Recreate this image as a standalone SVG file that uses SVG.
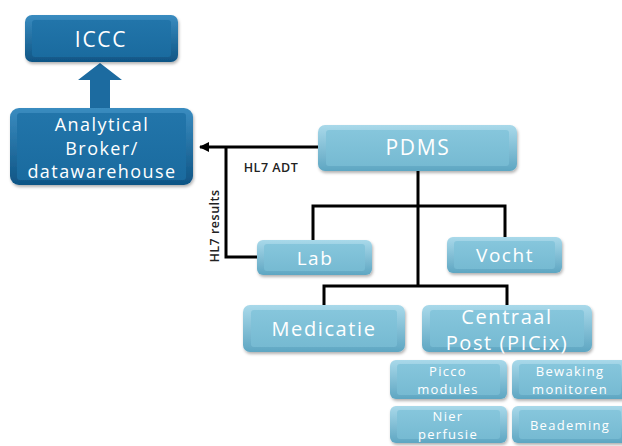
<svg xmlns="http://www.w3.org/2000/svg" width="622" height="446" viewBox="0 0 622 446">
<defs>
<linearGradient id="gDark" x1="0" y1="0" x2="0" y2="1"><stop offset="0" stop-color="#3a8cc0"/><stop offset="1" stop-color="#0f5585"/></linearGradient>
<linearGradient id="gDarkIn" x1="0" y1="0" x2="0" y2="1"><stop offset="0" stop-color="#2275aa"/><stop offset="1" stop-color="#1a6b9f"/></linearGradient>
<linearGradient id="gLight" x1="0" y1="0" x2="0" y2="1"><stop offset="0" stop-color="#a9d9ea"/><stop offset="1" stop-color="#5ea6c2"/></linearGradient>
<linearGradient id="gLightIn" x1="0" y1="0" x2="0" y2="1"><stop offset="0" stop-color="#86c6dc"/><stop offset="1" stop-color="#76bad2"/></linearGradient>
<filter id="sh" x="-10%" y="-10%" width="120%" height="130%"><feDropShadow dx="1" dy="2" stdDeviation="1.5" flood-color="#000" flood-opacity="0.3"/></filter>
<marker id="ah" markerWidth="10" markerHeight="10" refX="9" refY="5" orient="auto" markerUnits="userSpaceOnUse"><path d="M0,0 L10,5 L0,10 z" fill="#000"/></marker>
<style>
.d{fill:url(#gDark);filter:url(#sh)}
.di{fill:url(#gDarkIn)}
.l{fill:url(#gLight);filter:url(#sh)}
.li{fill:url(#gLightIn)}
.t{font-family:"Open Sans","Noto Sans",sans-serif;fill:#fff;text-anchor:middle;letter-spacing:0.08em}
.s{letter-spacing:0.1em}
.c{fill:none;stroke:#000;stroke-width:3}
.lb{font-family:"Open Sans","Noto Sans",sans-serif;fill:#222;font-size:12.5px;font-weight:600;text-anchor:middle;letter-spacing:0.04em}
</style>
</defs>
<g id="connectors">
<path class="c" d="M318,147 H200" marker-end="url(#ah)"/>
<path class="c" d="M226,147 V257 H258"/>
<path class="c" d="M418,171 V286"/>
<path class="c" d="M313,240 V206 H505 V237"/>
<path class="c" d="M324,306 V286 H507 V306"/>
<path d="M90,108 V80 H78 L100,63 L122,80 H110 V108 z" fill="#1c6ba0"/>
<text class="lb" x="271" y="172">HL7 ADT</text>
<text class="lb" transform="translate(219,226) rotate(-90)">HL7 results</text>
</g>
<g id="iccc"><rect class="d" x="25" y="15" width="153" height="47" rx="7"/><rect class="di" x="32" y="20" width="139" height="37" rx="3"/><text class="t" x="101" y="47" font-size="21">ICCC</text></g>
<g id="analytical"><rect class="d" x="10" y="108" width="183" height="77" rx="9"/><rect class="di" x="17" y="113" width="169" height="67" rx="3"/><text class="t" font-size="18"><tspan x="102" y="131">Analytical</tspan><tspan x="102" y="155">Broker/</tspan><tspan x="102" y="178">datawarehouse</tspan></text></g>
<g id="pdms"><rect class="l" x="318" y="125" width="199" height="46" rx="7"/><rect class="li" x="326" y="130" width="183" height="36" rx="3"/><text class="t" x="418" y="155" font-size="21">PDMS</text></g>
<g id="lab"><rect class="l" x="257" y="240" width="115" height="35" rx="6"/><rect class="li" x="264" y="244" width="101" height="27" rx="3"/><text class="t" x="315" y="265" font-size="19">Lab</text></g>
<g id="vocht"><rect class="l" x="447" y="237" width="115" height="36" rx="6"/><rect class="li" x="454" y="241" width="101" height="28" rx="3"/><text class="t" x="505" y="262" font-size="19">Vocht</text></g>
<g id="medicatie"><rect class="l" x="243" y="305" width="162" height="47" rx="7"/><rect class="li" x="251" y="310" width="146" height="37" rx="3"/><text class="t" x="324" y="336" font-size="20">Medicatie</text></g>
<g id="centraal"><rect class="l" x="422" y="305" width="170" height="47" rx="7"/><rect class="li" x="430" y="310" width="154" height="37" rx="3"/><text class="t" font-size="20"><tspan x="507" y="324">Centraal</tspan><tspan x="507" y="350">Post (PICix)</tspan></text></g>
<g id="picco"><rect class="l" x="390" y="360" width="117" height="39" rx="6"/><rect class="li" x="397" y="364" width="103" height="31" rx="3"/><text class="t s" font-size="13"><tspan x="448" y="376">Picco</tspan><tspan x="448" y="394">modules</tspan></text></g>
<g id="bewaking"><rect class="l" x="512" y="360" width="116" height="39" rx="6"/><rect class="li" x="519" y="364" width="102" height="31" rx="3"/><text class="t s" font-size="13"><tspan x="570" y="376">Bewaking</tspan><tspan x="570" y="394">monitoren</tspan></text></g>
<g id="nier"><rect class="l" x="390" y="406" width="117" height="37" rx="6"/><rect class="li" x="397" y="410" width="103" height="29" rx="3"/><text class="t s" font-size="13"><tspan x="448" y="421">Nier</tspan><tspan x="448" y="439">perfusie</tspan></text></g>
<g id="beademing"><rect class="l" x="512" y="406" width="116" height="37" rx="6"/><rect class="li" x="519" y="410" width="102" height="29" rx="3"/><text class="t s" font-size="13" x="570" y="430">Beademing</text></g>
</svg>
